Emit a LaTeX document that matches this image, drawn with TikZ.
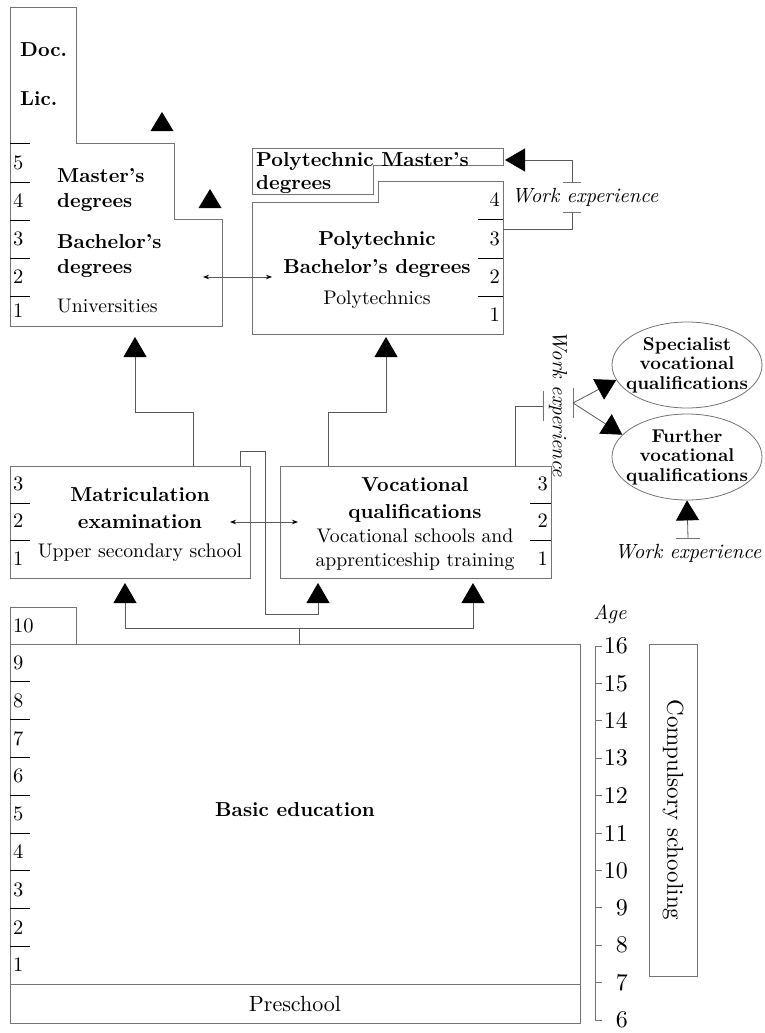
\documentclass[tikz,border=0pt]{standalone}
\usepackage{fontspec}
\setmainfont{lmroman10-regular.otf}[BoldFont=lmroman10-bold.otf, ItalicFont=lmroman10-italic.otf]
\usetikzlibrary{arrows.meta,shapes.geometric}

\newcommand\mainsize{\fontsize{19.7}{25}\selectfont}
\newcommand\titlesize{\fontsize{20.2}{25}\selectfont}

\tikzset{
  box/.style={draw=black!55, line width=0.8pt, inner sep=0pt, outer sep=0pt},
  rule/.style={draw=black, line width=0.8pt},
  link/.style={draw=black!65, line width=0.8pt},
  tick/.style={draw=black!55, line width=0.8pt},
  bigtip/.style={-{Triangle[width=23pt,length=20pt,black]}},
  twotip/.style={{Stealth[length=6pt,width=4.5pt,black]}-{Stealth[length=6pt,width=4.5pt,black]}},
  title/.style={font=\titlesize\bfseries, inner sep=0pt},
  plain/.style={font=\mainsize, inner sep=0pt},
  num/.style={font=\fontsize{20.5}{25}\selectfont, inner sep=0pt},
  agenum/.style={font=\fontsize{24}{28}\selectfont, inner sep=0pt},
  work/.style={font=\fontsize{20.5}{25}\selectfont\itshape, inner sep=0pt},
  oval/.style={ellipse, draw=black!55, line width=0.8pt, inner xsep=-10pt, inner ysep=-2pt,
    minimum width=150pt, minimum height=86pt, align=center,
    font=\fontsize{18.5}{19.5}\selectfont\bfseries},
}

\begin{document}
\begin{tikzpicture}[x=1pt,y=-1pt]
\useasboundingbox (0,0) rectangle (765,1033);

% Universities
\draw[box] (10,7) -- (76,7) -- (76,143) -- (174,143) -- (174,219) -- (222,219)
  -- (222,326) -- (10,326) -- cycle;
\foreach \y in {143,182,220,258,296} \draw[rule] (10,\y) -- (30,\y);
\foreach \n/\y in {5/163,4/201,3/239,2/277,1/311} \node[num, anchor=west] at (13,\y) {\n};
\node[title, anchor=base west] (doc) at (20,57) {Doc.};
\node[title, anchor=base west] (lic) at (20,105) {Lic.};
\node[title, anchor=west, align=left] (masters) at (57,190) {Master's\\degrees};
\node[title, anchor=west, align=left] (bachelors) at (57,256) {Bachelor's\\degrees};
\node[plain, anchor=base west] (unis) at (57,312) {Universities};
\foreach \x/\y in {162/131,210/208}
  \fill[black] (\x-11.5,\y) -- (\x+11.5,\y) -- (\x,\y-19) -- cycle;

% Polytechnics
\draw[box] (252,148) -- (503,148) -- (503,165) -- (373,165) -- (373,194) -- (252,194) -- cycle;
\draw[box] (252,202) -- (378,202) -- (378,181) -- (503,181) -- (503,334) -- (252,334) -- cycle;
\foreach \y in {219,258,296} \draw[rule] (478,\y) -- (503,\y);
\foreach \n/\y in {4/200,3/239,2/277,1/315} \node[num, anchor=east] at (500,\y) {\n};
\node[title, anchor=west, align=left, font=\fontsize{20.2}{23}\selectfont\bfseries] (pmText)
  at (256,173) {Polytechnic Master's\\degrees};
\node[title, align=center, font=\fontsize{20.2}{28}\selectfont\bfseries] (pbText)
  at (377,255) {Polytechnic\\Bachelor's degrees};
\node[plain, anchor=base] (polys) at (377,304) {Polytechnics};

% Work experience into polytechnic master's
\coordinate (pmIn) at (505,160);
\coordinate (pbOut) at (503,229);
\coordinate (wTop) at (572,182);
\coordinate (wBot) at (572,212);
\node[work] (work1) at (585,197) {Work experience};
\draw[link, bigtip] (wTop) |- (pmIn);
\draw[link] (wBot) |- (pbOut);
\foreach \c in {wTop,wBot} \draw[tick] ([xshift=-9pt]\c) -- ([xshift=9pt]\c);

\coordinate (uniL) at (203,277);
\coordinate (polyR) at (272,277);
\draw[link, twotip] (uniL) -- (polyR);

% Upper secondary level
\node[box, anchor=north west, minimum width=240pt, minimum height=112pt] (matric) at (10,466) {};
\node[box, anchor=north west, minimum width=271pt, minimum height=112pt] (voc) at (280,466) {};
\foreach \y in {503,540} {
  \draw[rule] (10,\y) -- (30,\y);
  \draw[rule] (530,\y) -- (551,\y);
}
\foreach \n/\y in {3/484,2/521,1/559} {
  \node[num, anchor=west] at (13,\y) {\n};
  \node[num, anchor=east] at (548,\y) {\n};
}
\node[title, align=center, font=\fontsize{20.2}{27}\selectfont\bfseries] (matText)
  at (140,508) {Matriculation\\examination};
\node[plain, anchor=base] (upper) at (140,557) {Upper secondary school};
\node[title, align=center, font=\fontsize{20.2}{27}\selectfont\bfseries] (vocText)
  at (415,500) {Vocational\\qualifications};
\node[plain, align=center, font=\fontsize{19.7}{24}\selectfont] (vocSub)
  at (415,550) {Vocational schools and\\apprenticeship training};

\coordinate (matR) at (230,522);
\coordinate (vocL) at (298,522);
\draw[link, twotip] (matR) -- (vocL);

% Upper secondary -> higher education
\coordinate (uniTip) at (135,337);
\coordinate (polyTip) at (386,337);
\coordinate (joinL) at (193,412);
\coordinate (joinR) at (328,412);
\draw[link, bigtip] (joinL) -| (uniTip);
\draw[link, bigtip] (joinR) -| (polyTip);
\draw[link] (matric.north -| joinL) -- (joinL);
\draw[link] (voc.north -| joinR) -- (joinR);

\coordinate (loopA) at (240,451);
\coordinate (loopB) at (265,614);
\coordinate (vocTipL) at (318,583);
\draw[link, bigtip] (matric.north -| loopA) -- (loopA) -| (loopB) -| (vocTipL);

% Further vocational qualifications
\node[oval] (spec) at (687,365) {Specialist\\vocational\\qualifications};
\node[oval] (furth) at (687,457) {Further\\vocational\\qualifications};
\coordinate (wMidL) at (543,406);
\coordinate (wMidR) at (573,403);
\coordinate (vocUp) at (515,406);
\draw[link] (voc.north -| vocUp) |- (wMidL);
\foreach \c in {wMidL,wMidR} \draw[tick] ([yshift=-15pt]\c) -- ([yshift=15pt]\c);
\node[work, rotate=-90] (work2) at (558,404) {Work experience};
\draw[link, bigtip] (wMidR) -- (spec.192);
\draw[link, bigtip] (wMidR) -- (furth.161);
\coordinate (wLow) at (688,538);
\draw[tick] ([xshift=-12pt]wLow) -- ([xshift=12pt]wLow);
\draw[link, bigtip] (wLow) -- (furth.south);
\node[work] (work3) at (688,553) {Work experience};

% Basic education
\node[box, anchor=north west, minimum width=570pt, minimum height=340pt] (basic) at (10,644) {};
\node[box, anchor=south west, minimum width=66pt, minimum height=37pt] (year10) at (basic.north west) {};
\node[num, anchor=west] at (13,626) {10};
\foreach \i in {1,...,8} \draw[rule] (10,{644+\i*37.78}) -- (30,{644+\i*37.78});
\foreach \n in {1,...,9} \node[num, anchor=west] at (13,{984-(\n-0.5)*37.78}) {\n};
\node[title] (basicText) at (295,810) {Basic education};
\node[box, anchor=north west, minimum width=570pt, minimum height=39pt,
  font=\fontsize{22}{25}\selectfont] (pre) at (basic.south west) {Preschool};

\coordinate (fork) at (299,628);
\coordinate (matTip) at (125,583);
\coordinate (vocTipR) at (473,583);
\draw[link] (basic.north -| fork) -- (fork);
\draw[link, bigtip] (fork) -| (matTip);
\draw[link, bigtip] (fork) -| (vocTipR);

% Age scale
\node[work] (age) at (610,614) {Age};
\draw[tick] (595,646) -- (595,1020);
\foreach \a in {6,...,16} {
  \draw[tick] (595,{646+(16-\a)*37.4}) -- ++(7,0);
  \node[agenum, anchor=east] at (628,{646+(16-\a)*37.4}) {\a};
}
\node[box, rotate=-90, minimum width=332pt, minimum height=48pt, font=\fontsize{23}{27}\selectfont]
  (compul) at (673,810) {Compulsory schooling};

\end{tikzpicture}
\end{document}
